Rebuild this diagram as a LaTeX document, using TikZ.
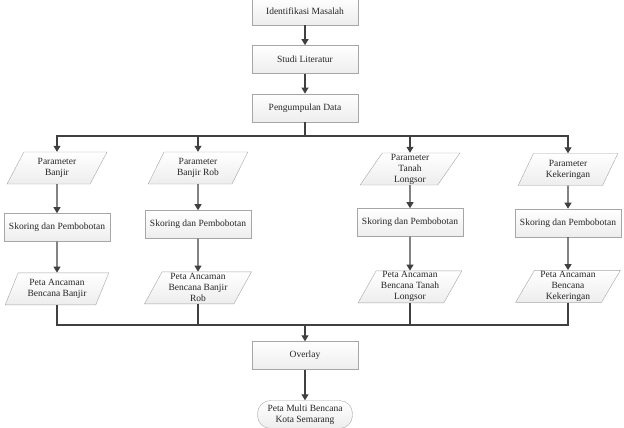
\documentclass[tikz,border=0pt]{standalone}
\usepackage{fontspec}
\setmainfont{Liberation Serif}
\usepackage{xcolor}
\usepackage{tikz}
\usetikzlibrary{arrows.meta,positioning,shapes.geometric}

\begin{document}
\begin{tikzpicture}[
    x=1pt,y=1pt,
    node distance=20pt and 20pt,
    every node/.style={font=\fontsize{9.5pt}{11pt}\selectfont,text=black!85,align=center},
    box/.style={draw=gray!70,top color=white,bottom color=gray!14,minimum height=28pt,minimum width=106pt,inner sep=2pt},
    data/.style={draw=gray!70,top color=white,bottom color=gray!14,trapezium,trapezium left angle=63,trapezium right angle=117,
        trapezium stretches=true,minimum height=32pt,minimum width=100pt,inner sep=0pt},
    term/.style={draw=gray!70,top color=white,bottom color=gray!14,rounded corners=13pt,minimum height=28pt,minimum width=95pt,inner sep=1pt},
    arr/.style={-{Triangle[length=6pt,width=7pt]},draw=black!75,line width=1.1pt},
    line/.style={draw=black!75,line width=1.1pt}
]
\useasboundingbox (0,0) rectangle (624,-428);
\node[box] (ident) at (305,-11) {Identifikasi Masalah};
\node[box,below=of ident] (studi) {Studi Literatur};
\node[box,below=of studi] (kumpul) {Pengumpulan Data};
\coordinate (split) at (305,-136);
\node[data] (parBanjir) at (57,-168) {Parameter\\Banjir};
\node[data] (parRob) at (198,-168) {Parameter\\Banjir Rob};
\node[data] (parLongsor) at (410,-169) {Parameter\\Tanah\\Longsor};
\node[data] (parKering) at (568,-169.5) {Parameter\\Kekeringan};
\node[box,below=29pt of parBanjir] (skorBanjir) {Skoring dan Pembobotan};
\node[box,below=26pt of parRob] (skorRob) {Skoring dan Pembobotan};
\node[box,below=23pt of parLongsor] (skorLongsor) {Skoring dan Pembobotan};
\node[box,below=23pt of parKering] (skorKering) {Skoring dan Pembobotan};
\node[data,minimum width=104pt,below=31pt of skorBanjir] (petaBanjir) {Peta Ancaman\\Bencana Banjir};
\node[data,minimum width=108pt,below=33pt of skorRob] (petaRob) {Peta Ancaman\\Bencana Banjir\\Rob};
\node[data,minimum width=104pt,below=34pt of skorLongsor] (petaLongsor) {Peta Ancaman\\Bencana Tanah\\Longsor};
\node[data,minimum width=105pt,below=33pt of skorKering] (petaKering) {Peta Ancaman\\Bencana\\Kekeringan};
\coordinate (join) at (305,-325);
\node[box] (overlay) at (305,-355.5) {Overlay};
\node[term] (multi) at (305,-414.5) {Peta Multi Bencana\\Kota Semarang};
% alur utama
\draw[arr] (ident) -- (studi);
\draw[arr] (studi) -- (kumpul);
\draw[line] (kumpul) -- (split);
\draw[arr] (split) -| (parBanjir);
\draw[arr] (split) -| (parRob);
\draw[arr] (split) -| (parLongsor);
\draw[arr] (split) -| (parKering);
\draw[arr] (parBanjir) -- (skorBanjir);
\draw[arr] (parRob) -- (skorRob);
\draw[arr] (parLongsor) -- (skorLongsor);
\draw[arr] (parKering) -- (skorKering);
\draw[arr] (skorBanjir) -- (petaBanjir);
\draw[arr] (skorRob) -- (petaRob);
\draw[arr] (skorLongsor) -- (petaLongsor);
\draw[arr] (skorKering) -- (petaKering);
\draw[line] (petaBanjir) |- (join);
\draw[line] (petaRob) |- (join);
\draw[line] (petaLongsor) |- (join);
\draw[line] (petaKering) |- (join);
\draw[arr] (join) -- (overlay);
\draw[arr] (overlay) -- (multi);
\end{tikzpicture}
\end{document}
